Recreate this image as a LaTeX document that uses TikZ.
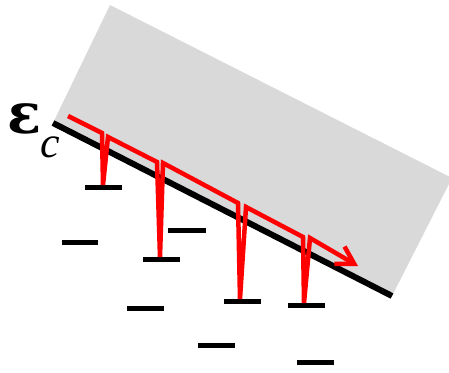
\documentclass[tikz,border=0pt]{standalone}
\usepackage{fontspec}
\setmainfont{Liberation Serif}
\newfontfamily\epsfont{DejaVu Serif}
\usetikzlibrary{arrows.meta}
\definecolor{slab}{HTML}{D9D9D9}
\definecolor{pathred}{HTML}{FF0000}
\tikzset{
  levelbar/.style={line width=5pt, black},
  surfline/.style={line width=6pt, black},
  redpath/.style={line width=4.5pt, pathred, miter limit=2.5},
  lbl/.style={inner sep=0pt, anchor=base west}
}
\begin{document}
\begin{tikzpicture}[x=1pt,y=-1pt]
\useasboundingbox (0,0) rectangle (449,372);
% slab
\fill[slab] (53,123) -- (110,5) -- (452,178) -- (392,296) -- cycle;
\draw[surfline] (53,123) -- (392,296);
% label
\node[lbl] (eps) at (7,133) {\fontsize{56}{56}\epsfont\bfseries ε};
\node[lbl] (sub) at (40,157) {\fontsize{44}{44}\selectfont\itshape c};
% trap levels
\draw[levelbar] (85,187) -- (122,187);
\draw[levelbar] (143,259) -- (180,259);
\draw[levelbar] (224,301) -- (261,301);
\draw[levelbar] (288,305) -- (325,305);
\draw[levelbar] (62,242) -- (98,242);
\draw[levelbar] (168,230) -- (206,230);
\draw[levelbar] (127,308) -- (164,308);
\draw[levelbar] (198,345) -- (235,345);
\draw[levelbar] (297,362) -- (334,362);
% red path
\draw[redpath, -{Straight Barb[length=17pt,width=20pt]}]
  (68,116) -- (102,133) -- (103,185) -- (108,137)
  -- (157,162) -- (160,257) -- (163,163)
  -- (238,203) -- (240,299) -- (246,207)
  -- (303,237) -- (304,303) -- (310,238)
  -- (358,266);
\end{tikzpicture}
\end{document}
